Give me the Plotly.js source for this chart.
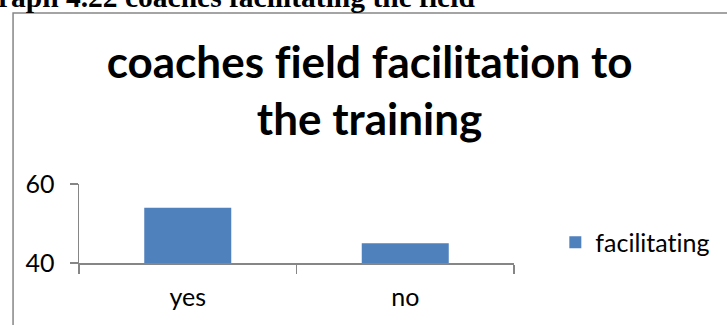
<!DOCTYPE html>
<html>
<head>
<meta charset="utf-8">
<script src="https://cdn.plot.ly/plotly-3.0.1.min.js"></script>
<style>
  html, body { margin: 0; padding: 0; background: #ffffff; }
  #chart { width: 727px; height: 325px; }
  #chart text { font-variant-ligatures: none; font-feature-settings: "liga" 0, "clig" 0; }
</style>
</head>
<body>
<div id="chart"></div>
<script>
// Survey answers: did the coaches facilitate the field for training?
const categories = ['yes', 'no'];
const facilitating = [54, 45];
const seriesName = 'facilitating';
const yTicks = [40, 60];

const axisGrey = '#868686';

const trace = {
  type: 'bar',
  x: categories,
  y: facilitating,
  name: seriesName,
  marker: { color: '#4F81BD' },
  showlegend: true,
  hoverinfo: 'x+y'
};

const layout = {
  width: 727,
  height: 325,
  margin: { l: 79, r: 193, t: 184, b: 62, pad: 0 },
  paper_bgcolor: '#ffffff',
  plot_bgcolor: '#ffffff',
  font: { family: 'Lato, Carlito, sans-serif', color: '#000000', size: 25 },
  bargap: 0.6,
  title: {
    text: 'coaches field facilitation to<br>the training',
    font: { family: 'Lato, Carlito, sans-serif', size: 44, weight: 'bold', color: '#000000' },
    x: 0.668, xref: 'paper', xanchor: 'center',
    y: 0.76, yref: 'container', yanchor: 'middle',
    pad: { t: 0, b: 0, l: 0, r: 0 }
  },
  xaxis: {
    type: 'category',
    showline: true, linecolor: axisGrey, linewidth: 1.5,
    ticks: 'outside', tickson: 'boundaries', ticklen: 9, tickcolor: axisGrey, tickwidth: 1.5,
    showgrid: false, zeroline: false,
    tickfont: { size: 25 },
    ticklabelstandoff: 11
  },
  yaxis: {
    range: [40, 60],
    tickvals: yTicks,
    ticktext: yTicks.map(String),
    showline: true, linecolor: axisGrey, linewidth: 1.5,
    ticks: 'outside', ticklen: 8, tickcolor: axisGrey, tickwidth: 1.5,
    showgrid: true, gridcolor: axisGrey, gridwidth: 1.5,
    zeroline: false,
    tickfont: { size: 25 },
    ticklabelstandoff: 10
  },
  legend: {
    x: 1.095, xanchor: 'left',
    y: 0.26, yanchor: 'middle',
    bgcolor: 'rgba(0,0,0,0)',
    font: { size: 25 },
    itemclick: false
  },
  shapes: [{
    // frame around the chart object
    type: 'rect', xref: 'paper', yref: 'paper',
    x0: -0.1516, x1: 2, y0: -2, y1: 3.1646,
    line: { color: axisGrey, width: 1.5 },
    fillcolor: 'rgba(0,0,0,0)',
    layer: 'below'
  }],
  annotations: [{
    // caption line above the chart frame
    text: '<b>Graph 4.22 coaches facilitating the field</b>',
    xref: 'paper', yref: 'paper',
    x: -0.2436, xanchor: 'left',
    y: 3.14, yanchor: 'bottom',
    showarrow: false,
    font: { family: 'Liberation Serif, Times New Roman, serif', size: 29.5, color: '#000000' }
  }]
};

Plotly.newPlot('chart', [trace], layout, { staticPlot: true, displayModeBar: false });
</script>
</body>
</html>
